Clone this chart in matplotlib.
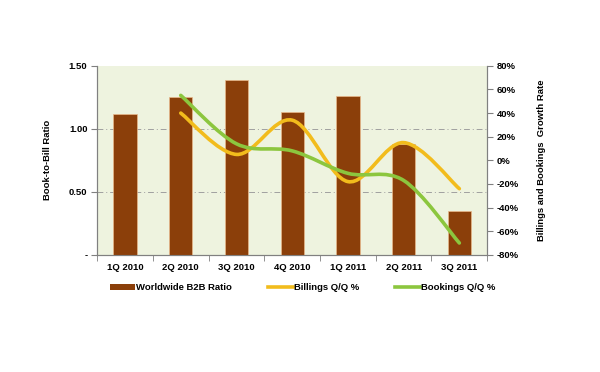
import numpy as np
import matplotlib
matplotlib.use("Agg")
import matplotlib.pyplot as plt
from matplotlib.path import Path
from matplotlib.patches import PathPatch
from matplotlib.lines import Line2D
from matplotlib.patches import Patch

quarters = ['1Q 2010', '2Q 2010', '3Q 2010', '4Q 2010', '1Q 2011', '2Q 2011', '3Q 2011']
b2b_ratio = [1.12, 1.25, 1.39, 1.13, 1.26, 0.88, 0.35]
billings_qq = [None, 40, 5, 34, -18, 15, -24]
bookings_qq = [None, 55, 14, 8, -11, -17, -70]

BAR_COLOR = '#8B3F0A'
BILL_COLOR = '#F2BC1C'
BOOK_COLOR = '#8CC63E'

plt.rcParams['font.family'] = ['Liberation Sans', 'DejaVu Sans']
plt.rcParams['font.weight'] = 'bold'


def smooth_path(xs, ys, tension=1 / 6):
    """Excel-like smoothed line as a bezier path through the points."""
    pts = np.column_stack([xs, ys]).astype(float)
    verts = [pts[0]]
    codes = [Path.MOVETO]
    n = len(pts)
    for i in range(n - 1):
        p0 = pts[i - 1] if i > 0 else pts[i]
        p1 = pts[i]
        p2 = pts[i + 1]
        p3 = pts[i + 2] if i + 2 < n else pts[i + 1]
        c1 = p1 + (p2 - p0) * tension
        c2 = p2 - (p3 - p1) * tension
        verts += [c1, c2, p2]
        codes += [Path.CURVE4] * 3
    return Path(verts, codes)


fig = plt.figure(figsize=(6, 3.72), dpi=100)
ax = fig.add_axes([0.162, 0.315, 0.650, 0.508])
ax2 = ax.twinx()

x = np.arange(len(quarters))
ax.set_facecolor('#EEF3DF')
ax.bar(x, b2b_ratio, width=0.42, color=BAR_COLOR, edgecolor='#E9B98A', linewidth=0.5, zorder=3)
ax.set_xlim(-0.5, len(quarters) - 0.5)
ax.set_ylim(0, 1.5)
ax.set_yticks([0, 0.5, 1.0, 1.5])
ax.set_yticklabels(['-', '0.50', '1.00', '1.50'])
for yv in [0.5, 1.0]:
    ax.axhline(yv, color='#A0A0A0', linestyle=(0, (6, 3, 1, 3)), linewidth=0.7, zorder=1)

ax.set_xticks(x)
ax.set_xticklabels(quarters)
ax.set_xticks(np.arange(-0.5, len(quarters)), minor=True)
ax.tick_params(axis='x', which='major', length=0, pad=6, labelsize=6.8)
ax.tick_params(axis='x', which='minor', length=4, color='#808080', direction='out')
ax.tick_params(axis='y', length=4, color='#808080', labelsize=6.8, pad=3)
ax.set_ylabel('Book-to-Bill Ratio', fontsize=6.8, fontweight='bold', labelpad=12)

ax2.set_ylim(-80, 80)
ax2.set_yticks(np.arange(-80, 81, 20))
ax2.set_yticklabels([f'{v}%' for v in range(-80, 81, 20)])
ax2.tick_params(axis='y', length=4, color='#808080', labelsize=6.8, pad=3)
ax2.set_ylabel('Billings and Bookings  Growth Rate', fontsize=6.8, fontweight='bold', labelpad=13)

for a in (ax, ax2):
    a.spines['top'].set_visible(False)
    a.spines['left'].set_color('#808080')
    a.spines['right'].set_color('#808080')
    a.spines['bottom'].set_color('#808080')

for series, color in [(billings_qq, BILL_COLOR), (bookings_qq, BOOK_COLOR)]:
    xs = [i for i, v in enumerate(series) if v is not None]
    ys = [v for v in series if v is not None]
    ax2.add_patch(PathPatch(smooth_path(xs, ys), facecolor='none', edgecolor=color,
                            linewidth=2.6, zorder=4, capstyle='round'))

handles = [Patch(facecolor=BAR_COLOR, label='Worldwide B2B Ratio'),
           Line2D([], [], color=BILL_COLOR, linewidth=2.6, label='Billings Q/Q %'),
           Line2D([], [], color=BOOK_COLOR, linewidth=2.6, label='Bookings Q/Q %')]
fig.legend(handles=handles, loc='center', bbox_to_anchor=(0.505, 0.226), ncol=3,
           frameon=False, fontsize=6.8, columnspacing=3.8, handlelength=2.6,
           handletextpad=0.15, handleheight=0.5)

fig.savefig('out.png', dpi=100, facecolor='white')
